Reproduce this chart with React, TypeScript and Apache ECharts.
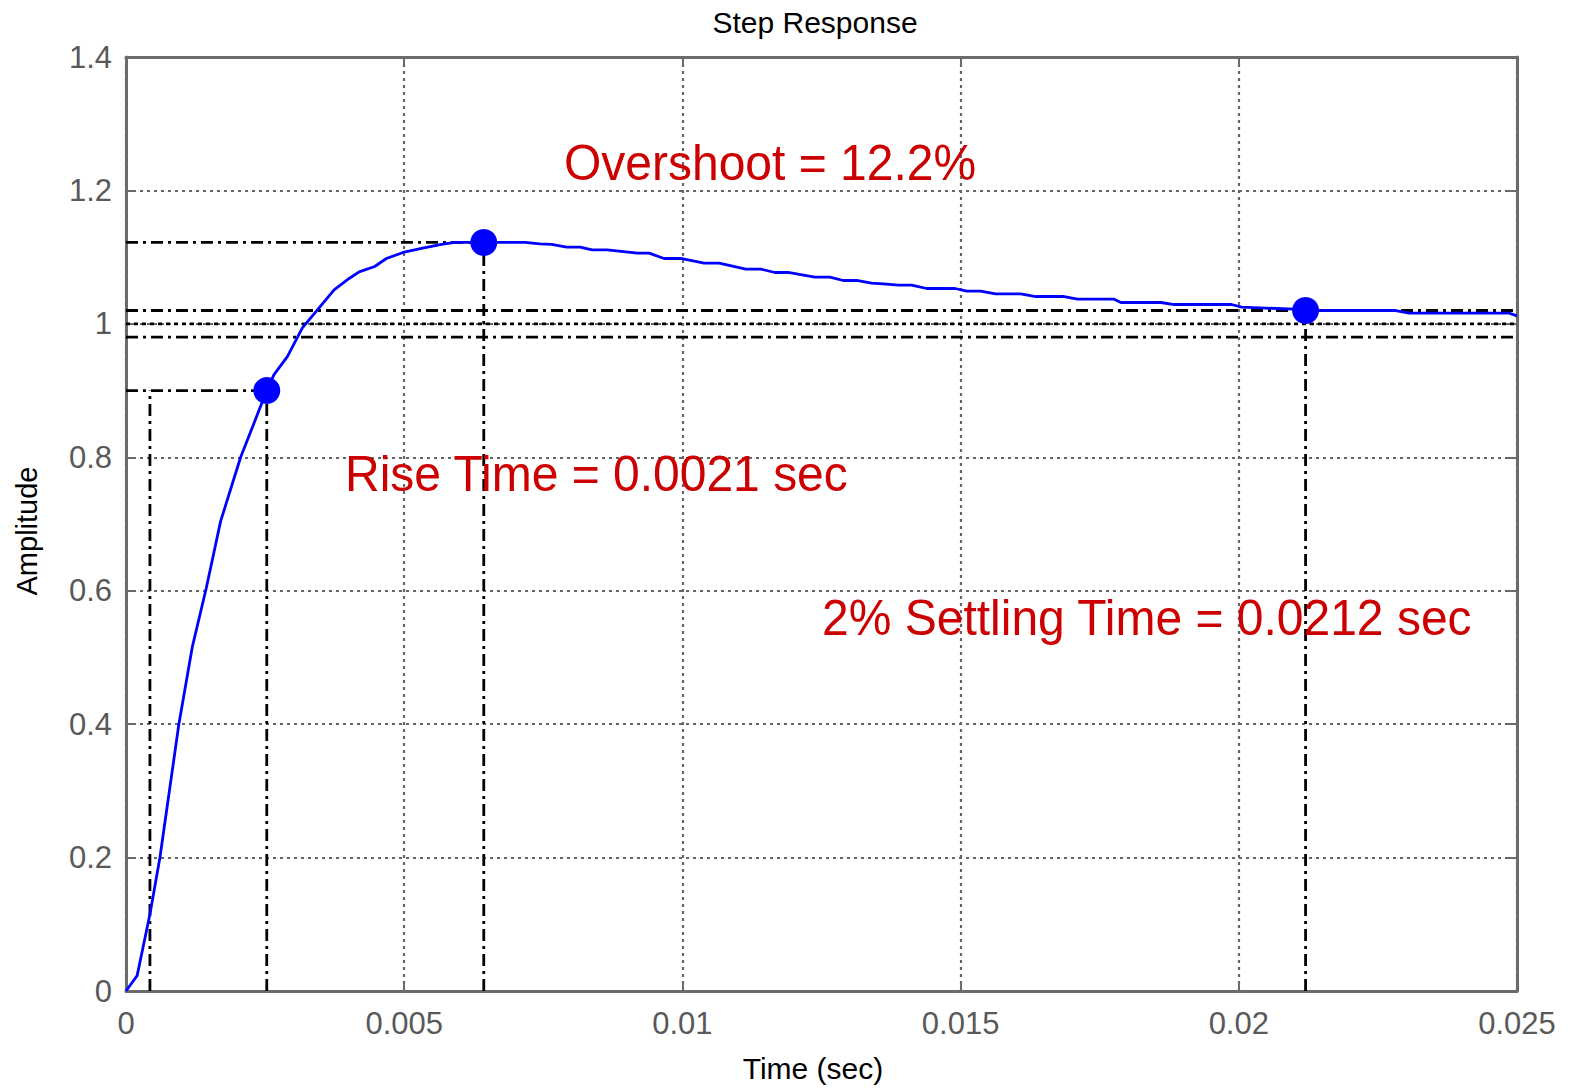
import React, { useEffect, useRef } from "react";
import * as echarts from "echarts";

// Step response samples: time (s) and amplitude
const timeSec = [
  0, 0.0002, 0.00043, 0.00061, 0.00095, 0.00119, 0.00144, 0.0017, 0.00206, 0.00253,
  0.00266, 0.0029, 0.00317, 0.00344, 0.00374, 0.00401, 0.00419, 0.00447, 0.00468, 0.00498,
  0.00531, 0.00567, 0.00591, 0.00643, 0.00717, 0.00744, 0.00765, 0.00792, 0.00816, 0.00838,
  0.00865, 0.00919, 0.0094, 0.00967, 0.00997, 0.01039, 0.01066, 0.01114, 0.01141, 0.01166,
  0.0119, 0.01238, 0.01265, 0.01289, 0.01313, 0.0134, 0.01361, 0.01388, 0.01412, 0.01439,
  0.0149, 0.01511, 0.01536, 0.01563, 0.01608, 0.01635, 0.01686, 0.0171, 0.01776, 0.01788,
  0.0186, 0.01884, 0.01987, 0.02005, 0.02101, 0.0212, 0.02282, 0.02306, 0.02486, 0.025,
];
const amplitude = [
  0, 0.023, 0.115, 0.2, 0.4, 0.515, 0.603, 0.704, 0.8, 0.9,
  0.924, 0.951, 0.994, 1.021, 1.051, 1.068, 1.078, 1.086, 1.098, 1.107,
  1.113, 1.119, 1.122, 1.122, 1.122, 1.12, 1.119, 1.115, 1.115, 1.111,
  1.111, 1.106, 1.106, 1.098, 1.098, 1.091, 1.091, 1.082, 1.082, 1.077,
  1.077, 1.07, 1.07, 1.065, 1.065, 1.061, 1.06, 1.058, 1.058, 1.053,
  1.053, 1.049, 1.049, 1.045, 1.045, 1.041, 1.041, 1.037, 1.037, 1.032,
  1.032, 1.029, 1.029, 1.025, 1.022, 1.02, 1.02, 1.016, 1.016, 1.012,
];

// Step characteristics
const finalValue = 1;
const riseHigh = 0.9;
const riseStartTime = 0.00043;
const riseEndTime = 0.00253; // rise time = 0.0021 s
const overshootPct = 12.2;
const peakTime = 0.00643;
const peakValue = finalValue * (1 + overshootPct / 100);
const settleBand = 0.02;
const settleTime = 0.0212;

// Axis ticks
const xTicks = [0, 0.005, 0.01, 0.015, 0.02, 0.025];
const yTicks = [0, 0.2, 0.4, 0.6, 0.8, 1, 1.2, 1.4];

const annotations = [
  { text: "Overshoot = 12.2%", x: 564, y: 162 },
  { text: "Rise Time = 0.0021 sec", x: 345, y: 473 },
  { text: "2% Settling Time = 0.0212 sec", x: 822, y: 617 },
];

const FONT = "'Liberation Sans', Arial, Helvetica, sans-serif";
const AXIS_GRAY = "#6b6b6b";
const LABEL_GRAY = "#595959";
const GRID_GRAY = "#666666";
const DASH_DOT = [12, 5, 3, 5];

const fmt = (v: number) => String(+v.toFixed(4));

function refLine(points: number[][], dash: number[] | string = DASH_DOT) {
  return {
    type: "line",
    data: points,
    symbol: "none",
    silent: true,
    z: 3,
    lineStyle: { color: "#000", width: 2.8, type: dash },
  };
}

export default function App() {
  const ref = useRef<HTMLDivElement>(null);

  useEffect(() => {
    if (!ref.current) return;
    const chart = echarts.init(ref.current, undefined, { renderer: "svg" });
    const xMax = xTicks[xTicks.length - 1];
    const yMax = yTicks[yTicks.length - 1];
    const xStep = xTicks[1] - xTicks[0];
    const yStep = yTicks[1] - yTicks[0];

    const tickCommon = {
      show: true,
      inside: true,
      length: 9,
      lineStyle: { color: AXIS_GRAY, width: 2 },
    };
    const axisLine = { show: true, onZero: false, lineStyle: { color: AXIS_GRAY, width: 3 } };
    const gridLine = {
      show: true,
      lineStyle: { color: GRID_GRAY, width: 2.2, type: [3, 4] },
    };

    const option = {
      animation: false,
      backgroundColor: "#fff",
      grid: { left: 126, top: 57, right: 56, bottom: 97, containLabel: false },
      xAxis: [
        {
          type: "value",
          min: xTicks[0],
          max: xMax,
          interval: xStep,
          axisLine,
          axisTick: tickCommon,
          axisLabel: {
            color: LABEL_GRAY,
            fontSize: 31,
            fontFamily: FONT,
            margin: 17,
            formatter: fmt,
          },
          splitLine: gridLine,
        },
        {
          type: "value",
          position: "top",
          min: xTicks[0],
          max: xMax,
          interval: xStep,
          axisLine,
          axisTick: tickCommon,
          axisLabel: { show: false },
          splitLine: { show: false },
        },
      ],
      yAxis: [
        {
          type: "value",
          min: yTicks[0],
          max: yMax,
          interval: yStep,
          axisLine,
          axisTick: tickCommon,
          axisLabel: {
            color: LABEL_GRAY,
            fontSize: 31,
            fontFamily: FONT,
            margin: 14,
            formatter: fmt,
          },
          splitLine: gridLine,
        },
        {
          type: "value",
          position: "right",
          min: yTicks[0],
          max: yMax,
          interval: yStep,
          axisLine,
          axisTick: tickCommon,
          axisLabel: { show: false },
          splitLine: { show: false },
        },
      ],
      series: [
        // rise time guides
        refLine([[0, riseHigh * finalValue], [riseEndTime, riseHigh * finalValue]]),
        refLine([[riseStartTime, 0], [riseStartTime, riseHigh * finalValue]]),
        refLine([[riseEndTime, 0], [riseEndTime, riseHigh * finalValue]]),
        // peak guides
        refLine([[0, peakValue], [peakTime, peakValue]]),
        refLine([[peakTime, 0], [peakTime, peakValue]]),
        // settling band and final value
        refLine([[0, finalValue + settleBand], [xMax, finalValue + settleBand]]),
        refLine([[0, finalValue - settleBand], [xMax, finalValue - settleBand]]),
        refLine([[0, finalValue], [xMax, finalValue]], [4, 4]),
        refLine([[settleTime, 0], [settleTime, finalValue + settleBand]]),
        {
          type: "line",
          name: "Step Response",
          data: timeSec.map((t, i) => [t, amplitude[i]]),
          symbol: "none",
          z: 4,
          lineStyle: { color: "#0000ff", width: 2.8 },
        },
        {
          type: "scatter",
          data: [
            [riseEndTime, riseHigh * finalValue],
            [peakTime, peakValue],
            [settleTime, finalValue + settleBand],
          ],
          symbol: "circle",
          symbolSize: 27,
          z: 5,
          itemStyle: { color: "#0000ff", opacity: 1 },
        },
      ],
      graphic: [
        {
          type: "text",
          x: 815,
          y: 22,
          style: {
            text: "Step Response",
            fill: "#000",
            font: `30px ${FONT}`,
            textAlign: "center",
            textVerticalAlign: "middle",
          },
        },
        {
          type: "text",
          x: 813,
          y: 1068,
          style: {
            text: "Time (sec)",
            fill: "#000",
            font: `30px ${FONT}`,
            textAlign: "center",
            textVerticalAlign: "middle",
          },
        },
        {
          type: "text",
          x: 27,
          y: 531,
          rotation: Math.PI / 2,
          style: {
            text: "Amplitude",
            fill: "#000",
            font: `29px ${FONT}`,
            textAlign: "center",
            textVerticalAlign: "middle",
          },
        },
        ...annotations.map((a) => ({
          type: "text",
          x: a.x,
          y: a.y,
          z: 10,
          scaleY: 1.05,
          style: {
            text: a.text,
            fill: "#cc0000",
            font: `48px ${FONT}`,
            textAlign: "left",
            textVerticalAlign: "middle",
          },
        })),
      ],
    };

    chart.setOption(option as any);
    return () => chart.dispose();
  }, []);

  return (
    <div
      ref={ref}
      style={{ position: "absolute", left: 0, top: 0, width: 1573, height: 1088 }}
    />
  );
}
